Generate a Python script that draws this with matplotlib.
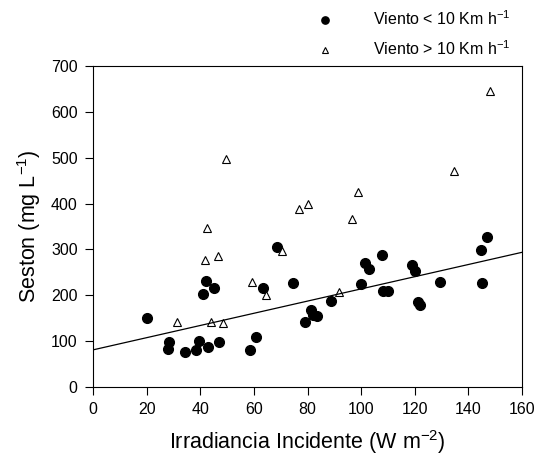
import numpy as np
import matplotlib.pyplot as plt

plt.rcParams['font.family'] = ['Liberation Sans', 'DejaVu Sans']
plt.rcParams['mathtext.fontset'] = 'custom'
plt.rcParams['mathtext.rm'] = 'Liberation Sans'

# Viento < 10 Km h-1
x_low = [20, 28.4, 28.1, 34.4, 38.4, 39.4, 42.9, 46.9, 41.2, 42.3, 45.1, 58.6, 60.7,
         63.3, 68.5, 74.4, 79.1, 81.2, 82.2, 83.7, 88.8, 99.9, 101.4, 103.1, 107.9,
         108.1, 110, 119, 120, 121.3, 122, 129.5, 144.7, 146.9, 144.9]
y_low = [151, 98, 84, 76, 80, 100, 88, 98, 202, 231, 215, 81, 109,
         216, 306, 227, 142, 168, 157, 155, 188, 224, 271, 257, 288,
         210, 210, 266, 254, 185, 179, 228, 299, 327, 226]

# Viento > 10 Km h-1
x_high = [31.5, 42.6, 41.8, 46.5, 44, 48.4, 49.6, 59.2, 64.4, 70.3, 76.9, 80.1,
          91.8, 96.5, 98.8, 134.8, 148.1]
y_high = [142, 347, 278, 286, 141, 140, 497, 229, 200, 296, 389, 399,
          208, 366, 425, 471, 645]

# linear fit drawn in the original
intercept, slope = 81, 1.33
x_fit = np.array([0, 160])

fig = plt.figure(figsize=(5.36, 4.65), dpi=100)
ax = fig.add_axes([0.1735, 0.1677, 0.8005, 0.6903])

l1, = ax.plot(x_low, y_low, 'o', color='black', ms=7, linestyle='none')
l2, = ax.plot(x_high, y_high, '^', mfc='white', mec='black', ms=6, mew=0.8, linestyle='none')
ax.plot(x_fit, intercept + slope * x_fit, '-', color='black', lw=0.9)

ax.set_xlim(0, 160)
ax.set_ylim(0, 700)
ax.set_xticks(np.arange(0, 161, 20))
ax.set_yticks(np.arange(0, 701, 100))
ax.tick_params(direction='out', labelsize=11.5, length=6, pad=5, top=False, right=False)
ax.set_xlabel('Irradiancia Incidente (W m$^{\\mathrm{-2}}$)', fontsize=15.5, labelpad=8)
ax.set_ylabel('Seston (mg L$^{\\mathrm{-1}}$)', fontsize=15.5, labelpad=6)

fig.legend([l1, l2], ['Viento < 10 Km h$^{\\mathrm{-1}}$', 'Viento > 10 Km h$^{\\mathrm{-1}}$'],
           loc='upper left', bbox_to_anchor=(0.55, 1.01), frameon=False,
           fontsize=11.5, handletextpad=2.0, labelspacing=0.7, markerscale=0.75)

fig.savefig('out.png')
